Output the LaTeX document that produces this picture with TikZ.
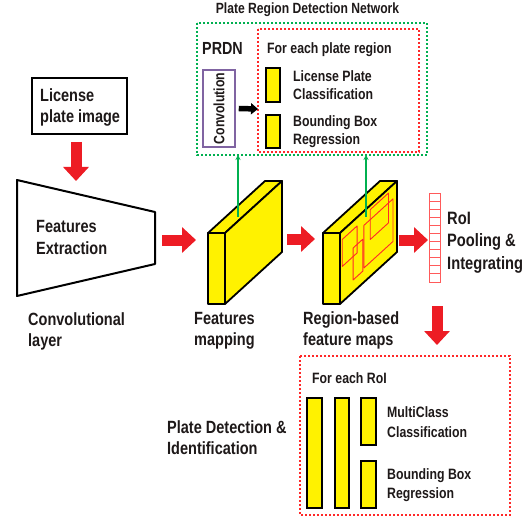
\documentclass[tikz,border=0pt]{standalone}
\usepackage{fontspec}
\setmainfont{Liberation Sans}[FakeStretch=0.82]
\usetikzlibrary{arrows.meta}
\definecolor{myred}{RGB}{237,28,36}
\definecolor{myyellow}{RGB}{255,242,0}
\definecolor{mygreen}{RGB}{0,176,80}
\definecolor{mypurple}{RGB}{128,100,162}
\definecolor{dotred}{RGB}{255,40,40}
\definecolor{gridred}{RGB}{255,90,90}
\definecolor{txt}{RGB}{30,25,25}
\begin{document}
\begin{tikzpicture}[x=1pt,y=-1pt,
  lbl/.style={anchor=base west, inner sep=0pt, align=left, text=txt, font=\bfseries\fontsize{17.7}{21}\selectfont},
  sml/.style={anchor=base west, inner sep=0pt, align=left, text=txt, font=\bfseries\fontsize{15}{18.5}\selectfont},
  bigarrow/.style={myred, line width=11pt, -{Triangle[length=14pt,width=25pt]}},
  slabline/.style={draw=black, fill=myyellow, line width=1.8pt, line join=round},
  reddot/.style={draw=dotred, line width=1.8pt, dash pattern=on 2pt off 2pt},
  greendot/.style={draw=mygreen, line width=1.8pt, dash pattern=on 2pt off 2pt},
  bar/.style={draw=black, fill=myyellow, line width=1.3pt},
  greenarrow/.style={draw=mygreen, line width=1.2pt, -{Stealth[length=5pt,width=5pt]}},
  roirect/.style={draw=dotred, line width=0.9pt, line join=round},
  slab/.pic={
    \filldraw[slabline] (0,0) -- (17,0) -- (74,-52) -- (57,-52) -- cycle;
    \filldraw[slabline] (17,0) -- (74,-52) -- (74,19) -- (17,71) -- cycle;
    \filldraw[slabline] (0,0) rectangle (17,71);
  }
]
\useasboundingbox[fill=white] (0,0) rectangle (524,521);

% ---------- top: PRDN ----------
\node[anchor=base, inner sep=0pt, text=txt, font=\bfseries\fontsize{14.8}{16}\selectfont] (title) at (307.5,14) {Plate Region Detection Network};
\draw[greendot] (197,23) rectangle (427,155);
\coordinate (gbot1) at (238,155);
\coordinate (gbot2) at (366,155);
\draw[reddot] (258,29) rectangle (419,152);
\node[anchor=base west, inner sep=0pt, text=txt, font=\bfseries\fontsize{17.5}{18}\selectfont] (prdn) at (202,55) {PRDN};
\node[draw=mypurple, line width=1.5pt, fill=white, minimum width=32pt, minimum height=77pt, inner sep=0pt] (conv) at (219,108.5) {};
\node[rotate=90, inner sep=0pt, text=txt, font=\bfseries\fontsize{15}{16}\selectfont] at (conv.center) {Convolution};
\coordinate (rbox) at (258,109);
\draw[black, line width=5.5pt, -{Triangle[length=7pt,width=11pt]}] (conv.east) ++(3,0) -- (rbox);
\node[sml] (fep) at (267,54) {For each plate region};
\draw[bar] (266,68) rectangle (280,102);
\draw[bar] (266,115) rectangle (280,148);
\node[sml] (lpc) at (293,100) {License Plate\\Classification};
\node[sml] (bbr1) at (293,145) {Bounding Box\\Regression};

% ---------- left ----------
\node[draw=black, line width=2.5pt, minimum width=95pt, minimum height=56pt, inner sep=0pt] (lpi) at (79.5,106) {};
\node[lbl] (lpitxt) at (40,123) {License\\plate image};
\coordinate (a1s) at (76,142);
\coordinate (a1e) at (76,181);
\draw[bigarrow] (a1s) -- (a1e);
\draw[black, line width=2pt, line join=round] (17,180) -- (155,212) -- (155,264) -- (17,296) -- cycle;
\node[lbl] (fe) at (36,254) {Features\\Extraction};
\node[lbl] (cl) at (28,346) {Convolutional\\layer};
\coordinate (a2s) at (162,240);
\coordinate (a2e) at (196,240);
\draw[bigarrow] (a2s) -- (a2e);

% ---------- slab 1 ----------
\pic at (208,233) {slab};
\coordinate (s1top) at (238,217);
\draw[greenarrow] (s1top) -- (gbot1);
\node[lbl] (fm) at (194,345) {Features\\mapping};
\coordinate (a3s) at (287,239);
\coordinate (a3e) at (315,239);
\draw[bigarrow] (a3s) -- (a3e);

% ---------- slab 2 ----------
\pic at (323,233) {slab};
\begin{scope}[shift={(340,233)}, x={(57pt,52pt)}, y={(0pt,-71pt)}]
  \draw[roirect] (0.04,0.12) -- (0.30,0.12) -- (0.30,0.50) -- (0.04,0.50) -- cycle;
  \draw[roirect] (0.23,0.38) -- (0.40,0.38) -- (0.40,0.83) -- (0.23,0.83) -- cycle;
  \draw[roirect] (0.42,0.20) -- (0.93,0.20) -- (0.93,0.80) -- (0.42,0.80) -- cycle;
  \draw[roirect] (0.53,0.06) -- (0.85,0.06) -- (0.85,0.48) -- (0.53,0.48) -- cycle;
\end{scope}
\coordinate (s2top) at (366,217);
\draw[greenarrow] (s2top) -- (gbot2);
\node[lbl] (rb) at (303,345) {Region-based\\feature maps};
\coordinate (a4s) at (399,240);
\coordinate (a4e) at (428,240);
\draw[bigarrow] (a4s) -- (a4e);

% ---------- RoI pooling ----------
\draw[draw=gridred, line width=0.9pt] (429,193) rectangle (440,282);
\foreach \i in {1,...,10} {
  \draw[draw=gridred, line width=0.9pt] (429,193+\i*8.09) -- (440,193+\i*8.09);
}
\node[lbl, font=\bfseries\fontsize{17.9}{22}\selectfont] (roi) at (447,269) {RoI\\Pooling \&\\Integrating};
\coordinate (a5s) at (437,306);
\coordinate (a5e) at (437,345);
\draw[bigarrow] (a5s) -- (a5e);

% ---------- bottom ----------
\node[lbl] (pdi) at (167,454) {Plate Detection \&\\Identification};
\draw[reddot] (300,356) rectangle (510,515);
\node[sml] (fer) at (312,383) {For each RoI};
\draw[bar] (307,398) rectangle (322,508);
\draw[bar] (335,398) rectangle (349,508);
\draw[bar] (361,398) rectangle (376,445);
\draw[bar] (361,461) rectangle (376,508);
\node[sml, font=\bfseries\fontsize{15}{20}\selectfont] (mcc) at (387,437) {MultiClass\\Classification};
\node[sml, font=\bfseries\fontsize{15}{19}\selectfont] (bbr2) at (387,498) {Bounding Box\\Regression};
\end{tikzpicture}
\end{document}
